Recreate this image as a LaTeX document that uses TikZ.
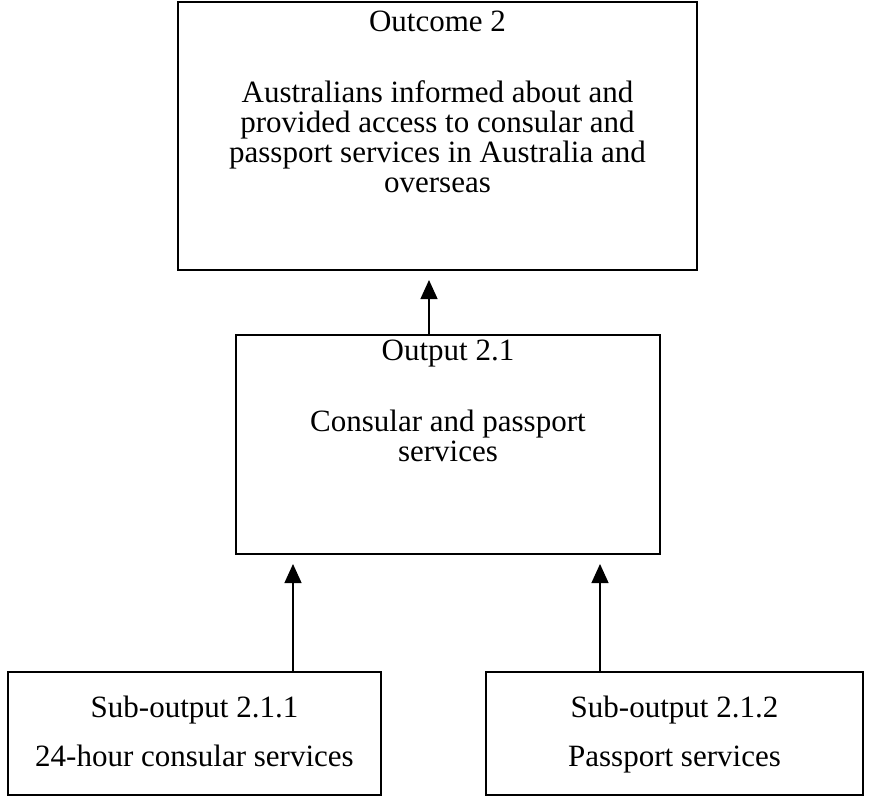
\documentclass[tikz,border=0pt]{standalone}
\usepackage{fontspec}
\setmainfont{Liberation Serif}
\usetikzlibrary{arrows.meta,positioning}
\tikzset{box/.style={draw,line width=1.3pt,minimum width=#1,inner sep=0pt},
  boxtext/.style={anchor=north,align=center,inner sep=0pt,font=\fontsize{31}{30}\selectfont},
  arr/.style={-{Triangle[length=19pt,width=17pt]},line width=1.3pt}}
\begin{document}
\begin{tikzpicture}[x=1pt,y=-1pt]
\useasboundingbox (0,0) rectangle (869,797);
% boxes
\node[box=519pt,minimum height=268pt] (outcome) at (437.5,136) {};
\node[box=424pt,minimum height=219pt] (output) at (448,444.5) {};
\node[box=373pt,minimum height=123pt] (subA) at (194.5,733.5) {};
\node[box=377pt,minimum height=123pt] (subB) at (674.5,733.5) {};
% texts
\node[boxtext] (outcome-t) at ([yshift=-9pt]outcome.north) {Outcome 2\\[41pt]Australians informed about and\\provided access to consular and\\passport services in Australia and\\overseas};
\node[boxtext] (output-t) at ([yshift=-5pt]output.north) {Output 2.1\\[41pt]Consular and passport\\services};
\node[boxtext] (subA-t) at ([yshift=-24pt]subA.north) {Sub-output 2.1.1\\[19pt]24-hour consular services};
\node[boxtext] (subB-t) at ([yshift=-24pt]subB.north) {Sub-output 2.1.2\\[19pt]Passport services};
% arrows
\coordinate (tip0) at (429,280);
\coordinate (tipA) at (293,564);
\coordinate (tipB) at (600,564);
\draw[arr] (output.north -| tip0) -- (tip0);
\draw[arr] (subA.north -| tipA) -- (tipA);
\draw[arr] (subB.north -| tipB) -- (tipB);
\end{tikzpicture}
\end{document}
